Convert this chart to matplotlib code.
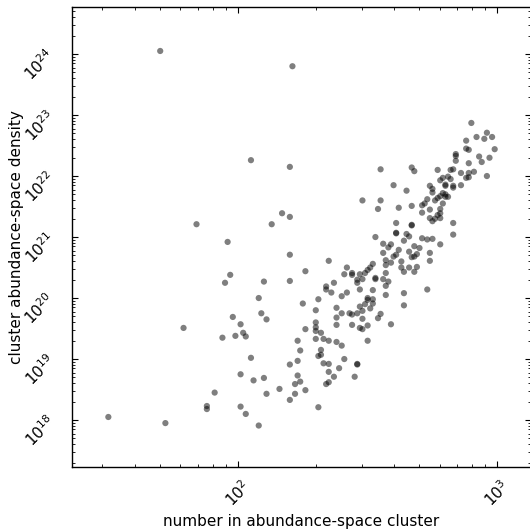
import numpy as np
import matplotlib
matplotlib.use('Agg')
import matplotlib.pyplot as plt
from matplotlib.ticker import LogLocator

# log10 of cluster size (number of members)
log_size = [
    1.70, 2.21, 2.05, 2.20, 1.84, 2.17, 2.20, 2.13, 1.96, 2.20,
    2.35, 2.26, 1.97, 1.95, 2.10, 2.20, 2.08, 2.42, 2.41, 2.37,
    2.34, 2.34, 2.36, 2.42, 2.40, 2.31, 2.25, 2.30, 2.38, 2.40,
    2.43, 2.38, 2.09, 2.11, 1.98, 2.01, 2.30, 2.30, 2.26, 2.30,
    2.32, 2.38, 2.02, 2.03, 1.99, 1.94, 1.79, 2.30, 2.33, 2.35,
    2.38, 2.40, 2.23, 2.32, 2.24, 2.23, 2.31, 2.32, 2.33, 2.35,
    2.41, 2.39, 2.05, 2.20, 2.35, 2.37, 2.23, 2.24, 2.22, 2.26,
    2.22, 2.20, 2.34, 2.35, 2.01, 2.06, 2.10, 2.11, 2.16, 2.01,
    2.03, 2.08, 2.31, 1.91, 1.88, 1.88, 1.50, 1.72,
    2.53, 2.61, 2.65, 2.66, 2.71, 2.73, 2.75, 2.83, 2.78, 2.56,
    2.59, 2.58, 2.64, 2.68, 2.70, 2.62, 2.66, 2.56, 2.61, 2.60,
    2.69, 2.68, 2.67, 2.74, 2.74, 2.57, 2.59, 2.63, 2.57, 2.63,
    2.66, 2.69, 2.64, 2.68, 2.57, 2.52, 2.51, 2.50, 2.49, 2.44,
    2.44, 2.47, 2.46, 2.46, 2.48, 2.53, 2.53, 2.56, 2.58, 2.57,
    2.52, 2.47, 2.57, 2.64, 2.73, 2.50, 2.50, 2.52, 2.49, 2.52,
    2.47, 2.51, 2.48, 2.46, 2.55, 2.54, 2.64, 2.44, 2.48, 2.44,
    2.47, 2.48, 2.50, 2.59, 2.50, 2.46, 2.46, 2.45, 2.48,
    2.90, 2.92, 2.96, 2.95, 2.98, 2.88, 2.88, 2.89, 2.99, 2.84,
    2.84, 2.93, 2.97, 2.84, 2.94, 2.89, 2.55, 2.67, 2.68, 2.77,
    2.82, 2.83, 2.91, 2.89, 2.86, 2.96, 2.88, 2.89, 2.81, 2.82,
    2.79, 2.78, 2.80, 2.80, 2.83, 2.83, 2.86, 2.74, 2.75, 2.75,
    2.60, 2.65, 2.79, 2.80, 2.81, 2.80, 2.78, 2.77, 2.76, 2.79,
    2.73, 2.72, 2.71, 2.71, 2.74, 2.78, 2.78, 2.77, 2.78, 2.76,
    2.74, 2.75, 2.55, 2.54, 2.62, 2.67, 2.83, 2.61, 2.67, 2.67,
    2.61,
]

# log10 of cluster abundance-space density
log_density = [
    24.05, 23.80, 22.26, 22.15, 21.21, 21.39, 21.33, 21.21, 20.92, 20.71,
    20.61, 20.44, 20.38, 20.25, 20.27, 20.28, 20.00, 20.50, 20.39, 20.25,
    20.19, 20.14, 20.09, 20.09, 20.03, 19.98, 19.91, 19.80, 19.84, 19.75,
    19.75, 19.68, 19.75, 19.65, 19.69, 19.57, 19.60, 19.52, 19.49, 19.46,
    19.43, 19.56, 19.43, 19.37, 19.38, 19.35, 19.51, 19.33, 19.33, 19.30,
    19.28, 19.22, 19.30, 19.15, 19.14, 18.97, 19.05, 19.07, 18.93, 18.92,
    19.00, 18.85, 19.02, 18.91, 18.79, 18.71, 18.73, 18.63, 18.59, 18.49,
    18.43, 18.33, 18.59, 18.62, 18.75, 18.65, 18.69, 18.43, 18.51, 18.22,
    18.10, 17.91, 18.21, 18.45, 18.23, 18.18, 18.05, 17.95,
    21.00, 21.07, 21.05, 21.01, 20.98, 20.96, 20.97, 21.04, 20.88, 20.89,
    20.88, 20.83, 20.94, 20.85, 20.82, 20.79, 20.76, 20.74, 20.71, 20.68,
    20.72, 20.68, 20.67, 20.74, 20.61, 20.62, 20.58, 20.60, 20.54, 20.50,
    20.50, 20.51, 20.43, 20.43, 20.41, 20.56, 20.50, 20.46, 20.41, 20.41,
    20.38, 20.39, 20.30, 20.25, 20.31, 20.33, 20.31, 20.31, 20.27, 20.20,
    20.13, 20.14, 20.05, 20.08, 20.14, 20.00, 19.97, 19.98, 19.90, 19.91,
    19.86, 19.83, 19.79, 19.75, 19.74, 19.67, 19.88, 19.73, 19.66, 19.56,
    19.51, 19.49, 19.55, 19.57, 19.30, 18.92, 18.91, 18.71, 21.60,
    22.87, 22.64, 22.71, 22.61, 22.64, 22.58, 22.45, 22.43, 22.44, 22.36,
    22.33, 22.32, 22.30, 22.25, 22.23, 22.21, 22.11, 22.14, 22.08, 22.10,
    22.10, 22.11, 22.07, 22.05, 22.05, 22.00, 21.97, 21.98, 21.99, 21.95,
    21.97, 21.93, 21.86, 21.84, 21.84, 21.81, 21.85, 21.84, 21.79, 21.73,
    21.85, 21.76, 21.72, 21.66, 21.66, 21.70, 21.67, 21.64, 21.60, 21.55,
    21.62, 21.55, 21.52, 21.40, 21.45, 21.46, 21.39, 21.36, 21.31, 21.30,
    21.31, 21.26, 21.60, 21.46, 21.48, 21.51, 21.23, 21.23, 21.20, 21.19,
    21.06,
]

size = 10 ** np.array(log_size)
density = 10 ** np.array(log_density)

fig = plt.figure(figsize=(5.30, 5.29), dpi=100)
ax = fig.add_axes([0.1353, 0.1166, 0.8675, 0.8696])

ax.scatter(size, density, s=20, c='k', alpha=0.5, edgecolors='none')

ax.set_xscale('log')
ax.set_yscale('log')
ax.set_xlim(22.84, 1355)
ax.set_ylim(10 ** 17.225, 10 ** 24.766)

for axis in (ax.xaxis, ax.yaxis):
    axis.set_major_locator(LogLocator(base=10, numticks=20))
    axis.set_minor_locator(LogLocator(base=10, subs=np.arange(2, 10), numticks=20))

ax.tick_params(which='both', direction='in', top=True, right=True)
ax.tick_params(which='major', length=4, width=0.8, labelsize=11,
               labelrotation=45)
ax.tick_params(axis='x', which='major', pad=7)
ax.tick_params(axis='y', which='major', pad=9.5)
ax.tick_params(which='minor', length=2, width=0.6)
for s in ax.spines.values():
    s.set_linewidth(1.0)

ax.set_xlabel('number in abundance-space cluster', fontsize=11, labelpad=3)
ax.set_ylabel('cluster abundance-space density', fontsize=11)
ax.yaxis.set_label_coords(-0.103, 0.5)

fig.savefig('out.png', dpi=100)
